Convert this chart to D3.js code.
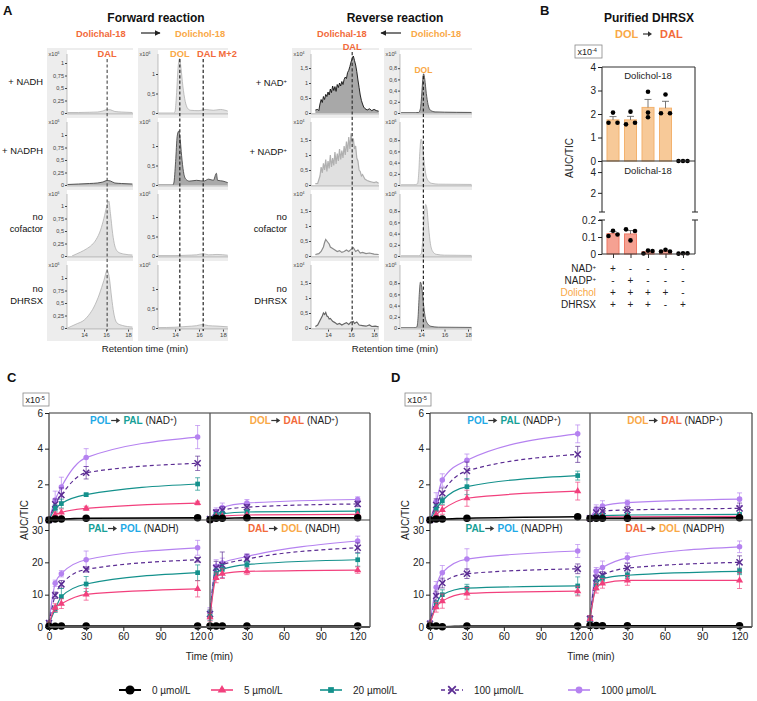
<!DOCTYPE html>
<html><head><meta charset="utf-8">
<script src="https://cdn.jsdelivr.net/npm/d3@7"></script>
<style>
body{margin:0;background:#fff}
svg{display:block}
text{font-family:"Liberation Sans",Arial,Helvetica,sans-serif}
</style>
</head><body>
<svg id="c" width="757" height="701"></svg>
<script>
// ===================== DATA =====================
// ---- Panel A chromatograms: [retention time (min), intensity] ----
const fwdDal_NADH = [[12.5,0.01],[13.5,0.01],[14.5,0.015],[15.2,0.02],[15.7,0.04],[16.1,0.07],[16.4,0.065],[16.8,0.03],[17.4,0.02],[18.4,0.01]];
const fwdDal_NADPH = [[12.5,0.01],[13.5,0.02],[14.5,0.03],[15.2,0.04],[15.7,0.06],[16.1,0.09],[16.4,0.08],[16.8,0.04],[17.4,0.03],[18.4,0.02]];
const fwdDal_noCof = [[12.9,0.0],[13.3,0.04],[13.7,0.08],[14.2,0.14],[14.7,0.22],[15.1,0.33],[15.5,0.52],[15.8,0.75],[16.05,0.98],[16.25,1.1],[16.4,0.85],[16.6,0.45],[16.8,0.2],[17.1,0.08],[17.6,0.04],[18.4,0.02]];
const fwdDal_noDHRSX = [[12.5,0.0],[12.9,0.04],[13.4,0.09],[13.9,0.14],[14.4,0.25],[14.9,0.42],[15.4,0.68],[15.8,0.95],[16.1,1.15],[16.3,1.0],[16.5,0.62],[16.7,0.3],[17.0,0.1],[17.5,0.05],[18.4,0.02]];
const fwdDol_NADH = [[12.6,0.0],[13.9,0.0],[14.0,0.04],[14.12,0.45],[14.25,1.15],[14.38,1.4],[14.5,1.15],[14.65,0.7],[14.85,0.3],[15.05,0.12],[15.3,0.07],[16.0,0.06],[16.5,0.09],[17.2,0.07],[17.8,0.09],[18.4,0.05]];
const fwdDol_NADPH = [[12.6,0.0],[13.8,0.0],[13.9,0.05],[14.05,0.6],[14.18,1.25],[14.3,1.38],[14.42,1.2],[14.55,0.75],[14.7,0.35],[14.9,0.15],[15.2,0.1],[15.8,0.12],[16.4,0.1],[16.8,0.15],[17.2,0.12],[17.45,0.3],[17.55,0.12],[18.0,0.1],[18.4,0.06]];
const fwdDol_noCof = [[12.6,0.01],[14.0,0.01],[15.0,0.02],[15.8,0.03],[16.35,0.06],[16.8,0.03],[17.5,0.04],[18.4,0.02]];
const fwdDol_noDHRSX = [[12.6,0.01],[14.0,0.02],[15.0,0.04],[15.8,0.06],[16.3,0.09],[16.8,0.06],[17.5,0.05],[18.4,0.03]];

const revDal_NAD = [[12.9,0.1],[13.1,0.12],[13.2,0.08],[13.3,0.3],[13.4,0.45],[13.5,0.35],[13.6,0.55],[13.7,0.45],[13.8,0.62],[13.9,0.55],[14.0,0.7],[14.1,0.6],[14.2,0.8],[14.3,0.68],[14.4,0.9],[14.5,0.75],[14.6,0.88],[14.7,0.72],[14.8,0.95],[14.9,0.85],[15.0,1.0],[15.1,0.9],[15.2,1.05],[15.3,0.95],[15.4,1.12],[15.5,1.2],[15.6,1.15],[15.7,1.35],[15.8,1.42],[15.9,1.55],[16.0,1.7],[16.1,1.82],[16.2,1.9],[16.3,1.75],[16.4,1.6],[16.5,1.38],[16.6,1.1],[16.7,0.85],[16.8,0.6],[16.9,0.42],[17.0,0.3],[17.1,0.2],[17.2,0.15],[17.4,0.1],[17.6,0.14],[17.8,0.08],[18.0,0.12],[18.2,0.08],[18.4,0.06]];
const revDal_NADP = [[12.9,0.05],[13.1,0.05],[13.3,0.3],[13.4,0.6],[13.5,0.4],[13.6,0.72],[13.7,0.5],[13.8,0.85],[13.9,0.45],[14.0,0.8],[14.1,0.55],[14.2,1.0],[14.3,0.6],[14.4,0.9],[14.5,0.65],[14.6,1.1],[14.7,0.7],[14.8,1.05],[14.9,0.8],[15.0,1.2],[15.1,0.85],[15.2,1.15],[15.3,0.9],[15.4,1.3],[15.5,1.0],[15.6,1.45],[15.7,1.1],[15.8,1.6],[15.9,1.2],[16.0,1.72],[16.1,1.4],[16.2,1.55],[16.3,1.2],[16.4,1.3],[16.5,0.9],[16.6,0.8],[16.7,0.5],[16.8,0.45],[16.9,0.3],[17.0,0.35],[17.2,0.2],[17.4,0.15],[17.6,0.12],[17.8,0.1],[18.0,0.08],[18.2,0.1],[18.4,0.06]];
const revDal_noCof = [[12.9,0.05],[13.2,0.08],[13.4,0.15],[13.6,0.3],[13.7,0.45],[13.8,0.55],[13.9,0.5],[14.0,0.45],[14.1,0.4],[14.2,0.3],[14.4,0.25],[14.6,0.2],[14.8,0.15],[15.0,0.18],[15.2,0.12],[15.4,0.15],[15.6,0.2],[15.8,0.15],[16.0,0.22],[16.2,0.28],[16.4,0.15],[16.6,0.2],[16.8,0.1],[17.0,0.12],[17.3,0.08],[17.6,0.1],[18.0,0.06],[18.4,0.05]];
const revDal_noDHRSX = [[12.9,0.05],[13.1,0.1],[13.3,0.25],[13.5,0.4],[13.6,0.5],[13.7,0.45],[13.8,0.52],[13.9,0.4],[14.0,0.38],[14.1,0.3],[14.2,0.32],[14.4,0.22],[14.6,0.18],[14.8,0.12],[15.0,0.15],[15.2,0.1],[15.4,0.14],[15.6,0.18],[15.8,0.12],[16.0,0.2],[16.2,0.22],[16.3,0.15],[16.5,0.2],[16.7,0.1],[17.0,0.08],[17.3,0.06],[17.6,0.1],[17.8,0.05],[18.1,0.06],[18.4,0.04]];
const revDol_NAD = [[12.3,0.005],[13.5,0.005],[13.8,0.01],[13.95,0.08],[14.05,0.3],[14.15,0.6],[14.22,0.7],[14.32,0.6],[14.45,0.35],[14.6,0.15],[14.8,0.05],[15.2,0.02],[16.0,0.015],[17.0,0.012],[18.3,0.01]];
const revDol_NADP = [[12.3,0.005],[13.4,0.005],[13.7,0.02],[13.8,0.2],[13.9,0.6],[14.0,0.82],[14.1,0.75],[14.25,0.45],[14.4,0.2],[14.6,0.08],[14.9,0.03],[15.5,0.015],[18.3,0.01]];
const revDol_noCof = [[12.3,0.005],[13.8,0.005],[14.0,0.03],[14.15,0.3],[14.3,0.8],[14.4,0.92],[14.5,0.85],[14.65,0.5],[14.8,0.22],[15.0,0.08],[15.3,0.03],[16.0,0.015],[18.3,0.01]];
const revDol_noDHRSX = [[12.3,0.005],[13.4,0.005],[13.65,0.02],[13.75,0.2],[13.85,0.6],[13.95,0.82],[14.05,0.75],[14.2,0.45],[14.35,0.2],[14.55,0.08],[14.85,0.03],[15.5,0.015],[18.3,0.01]];

const fwdRowLabels = [["+ NADH"],["+ NADPH"],["no","cofactor"],["no","DHRSX"]];
const revRowLabels = [["+ NAD","+"],["+ NADP","+"],["no","cofactor"],["no","DHRSX"]];
const rtTicks = [14,16,18];
const peakDAL = 16.1, peakDOL = 14.4, peakDALM2 = 16.35, peakDOLrev = 14.2;

// ---- Panel B ----
const bGroups = ["g1","g2","g3","g4","g5"];
const dolMean = [1.75, 1.75, 2.28, 2.25, 0];
const dolSem  = [0.14, 0.15, 0.34, 0.29, 0];
const dolPts  = [[1.63,2.06,1.63],[1.56,2.1,1.63],[1.86,2.95,2.06],[2.03,2.83,2.03],[0,0,0]];
const dalMean = [0.12, 0.118, 0.013, 0.018, 0.003];
const dalSem  = [0.012, 0.02, 0.004, 0.003, 0.001];
const dalPts  = [[0.106,0.137,0.115],[0.145,0.08,0.135],[0.003,0.02,0.018],[0.015,0.025,0.015],[0.002,0.004,0.004]];
const bTopTicks = [0,1,2,3,4];
const bMidTicks = [2,4];
const bLowTicks = [0,0.1,0.2];
const condNAD   = ["+","-","-","-","-"];
const condNADP  = ["-","+","-","-","-"];
const condDOL   = ["+","+","+","+","-"];
const condDHRSX = ["+","+","+","-","+"];

// ---- Panels C & D: time course (x10^-5 AUC/TIC), series order 0,5,20,100,1000 µmol/L ----
const times = [0, 5, 10, 30, 120];
const concLabels = ["0 µmol/L","5 µmol/L","20 µmol/L","100 µmol/L","1000 µmol/L"];
const timeTicks = [0,30,60,90,120];
const topTicks = [0,2,4,6];
const botTicks = [0,10,20,30];

const cPolPal = [[0,0.05,0.05,0.1,0.12],[0,0.3,0.42,0.65,0.95],[0,0.65,0.92,1.42,2.02],[0,0.88,1.4,2.65,3.18],[0,1.12,1.85,3.5,4.65]];
const cPolPalErr = [[0,0.02,0.02,0.03,0.03],[0,0.15,0.2,0.12,0.1],[0,0.2,0.25,0.08,0.35],[0,0.3,0.4,0.35,0.4],[0,0.5,0.55,0.5,0.65]];
const cDolDal = [[0.02,0.1,0.1,0.12,0.12],[0.05,0.2,0.22,0.28,0.32],[0.05,0.3,0.35,0.45,0.5],[0.05,0.42,0.55,0.72,0.9],[0.05,0.48,0.7,0.95,1.15]];
const cDolDalErr = [[0,0.02,0.02,0.02,0.02],[0,0.05,0.05,0.05,0.05],[0,0.1,0.1,0.1,0.1],[0,0.15,0.2,0.15,0.15],[0,0.2,0.25,0.2,0.15]];
const cPalPol = [[0.2,0.2,0.3,0.3,0.3],[1.0,6.0,7.2,10.1,11.8],[1.0,5.5,9.4,13.3,16.8],[1.2,9.8,13.2,17.8,20.8],[1.5,13.5,16.5,20.8,24.5]];
const cPalPolErr = [[0.1,0.1,0.1,0.1,0.1],[0.5,1.2,1.5,1.8,2.5],[0.5,1.0,2.5,2.3,2.4],[0.5,1.0,1.2,0.8,0.7],[0.5,1.0,1.0,2.7,2.3]];
const cDalDol = [[0.3,0.3,0.3,0.3,0.3],[3.0,15.2,16.5,17.2,17.6],[3.5,16.5,17.8,19.3,20.8],[4.0,18.3,19.2,21.0,24.5],[4.5,18.8,19.8,21.8,26.6]];
const cDalDolErr = [[0.1,0.1,0.1,0.1,0.1],[1.2,1.5,1.5,1.0,1.0],[1.5,1.5,1.5,1.0,2.0],[1.5,2.0,4.0,1.5,1.5],[1.5,2.0,1.5,0.8,1.5]];

const dPolPal = [[0,0.05,0.05,0.1,0.18],[0,0.3,0.57,1.22,1.62],[0,0.6,1.08,1.87,2.49],[0,0.84,1.5,2.75,3.68],[0,1.03,2.24,3.35,4.83]];
const dPolPalErr = [[0,0.02,0.02,0.03,0.03],[0,0.2,0.25,0.45,0.5],[0,0.25,0.2,0.45,0.25],[0,0.35,0.3,0.5,0.45],[0,0.5,0.35,0.35,0.5]];
const dDolDal = [[0.08,0.1,0.1,0.1,0.12],[0.08,0.15,0.17,0.18,0.2],[0.1,0.22,0.25,0.28,0.32],[0.1,0.42,0.5,0.56,0.65],[0.1,0.6,0.78,0.97,1.17]];
const dDolDalErr = [[0,0.02,0.02,0.02,0.02],[0,0.05,0.05,0.05,0.05],[0,0.05,0.05,0.05,0.05],[0,0.3,0.2,0.2,0.3],[0,0.25,0.3,0.15,0.35]];
const dPalPol = [[0.3,0.3,0.1,0.3,0.3],[1.0,6.1,8.0,10.4,11.1],[1.0,7.0,10.0,12.0,12.7],[1.0,9.6,13.6,16.5,18.0],[1.5,12.3,16.8,21.0,23.5]];
const dPalPolErr = [[0.1,0.1,0.1,0.1,0.1],[0.5,1.5,2.2,1.8,1.5],[0.5,1.0,1.5,1.2,2.8],[0.5,1.5,1.5,1.5,1.5],[0.5,1.8,2.2,3.2,2.0]];
const dDalDol = [[0.5,0.5,0.4,0.4,0.4],[2.5,12.0,13.5,14.4,14.4],[2.0,13.0,15.0,16.0,17.2],[2.5,15.1,16.1,18.2,20.0],[2.5,17.2,18.4,21.4,24.8]];
const dDalDolErr = [[0.1,0.1,0.1,0.1,0.1],[1,1.5,1.5,1.5,2.5],[1,1.5,1,1,1],[1,1,1,1.5,2],[1,1.2,2,1.5,1.8]];

// ===================== STYLE =====================
const FONT = '"Liberation Sans",Arial,Helvetica,sans-serif';
const cRed = "#f26a3a", cOrange = "#f9a846", cBlue = "#1ea9e6", cTeal = "#17a097";
const seriesStyle = [
  {color:"#000000", sym:d3.symbolCircle, size:44, dash:null, lw:1.6},
  {color:"#f2407d", sym:d3.symbolTriangle, size:22, dash:null, lw:1.2},
  {color:"#14918c", sym:d3.symbolSquare, size:22, dash:null, lw:1.2},
  {color:"#5b2c93", sym:d3.symbolX, size:26, dash:"4,3", lw:1.2, stroke:true},
  {color:"#b582f0", sym:d3.symbolCircle, size:24, dash:null, lw:1.2}
];
const plain = d => String(d);

const svg = d3.select("#c");

function rich(parent, x, y, parts, o={}) {
  const size = o.size || 10;
  const t = parent.append("text").attr("x", x).attr("y", y).attr("font-size", size)
    .attr("text-anchor", o.anchor || "start").attr("fill", o.fill || "#222");
  if (o.bold) t.attr("font-weight", "bold");
  if (o.rotate) t.attr("transform", `rotate(${o.rotate},${x},${y})`);
  parts.forEach(p => {
    const ts = t.append("tspan").text(p.t);
    if (p.c) ts.attr("fill", p.c);
    if (p.b) ts.attr("font-weight", "bold");
    if (p.n) ts.attr("font-weight", "normal");
    if (p.sup) ts.attr("baseline-shift", "super").attr("font-size", size * 0.62);
    if (p.size) ts.attr("font-size", p.size);
  });
  return t;
}
function txt(parent, x, y, s, o={}) { return rich(parent, x, y, [{t:s}], o); }

function styleAxis(g, size, col) {
  g.attr("font-family", FONT).attr("font-size", size);
  g.selectAll(".domain").remove();
  g.selectAll(".tick line").attr("stroke", col);
  g.selectAll(".tick text").attr("fill", col);
}

// ===================== PANEL A =====================
const rowBase = [113, 185, 256, 328];
const rowTop = [50, 118, 190, 261];

function chromCol(c, traces, styles) {
  const g = svg.append("g");
  const x = d3.scaleLinear([c.t0, c.t1], [c.ax, c.x1]);
  g.append("rect").attr("x", c.x0).attr("y", 48).attr("width", c.x1 - c.x0).attr("height", 293).attr("fill", "#ededed");
  rowBase.forEach((b, i) => {
    const top = rowTop[i];
    const y = d3.scaleLinear([0, 1], [b, b - c.ppu]);
    g.append("rect").attr("x", c.ax).attr("y", top).attr("width", c.x1 - c.ax).attr("height", b - top).attr("fill", "#fff");
    const st = styles[i];
    const cv = st.smooth ? d3.curveMonotoneX : d3.curveLinear;
    g.append("path").datum(traces[i])
      .attr("d", d3.area().x(d => x(d[0])).y0(b).y1(d => y(d[1])).curve(cv))
      .attr("fill", st.fill);
    g.append("path").datum(traces[i])
      .attr("d", d3.line().x(d => x(d[0])).y(d => y(d[1])).curve(cv))
      .attr("fill", "none").attr("stroke", st.stroke).attr("stroke-width", st.w || 0.7);
    g.append("rect").attr("x", c.ax).attr("y", b).attr("width", c.x1 - c.ax).attr("height", 1.6).attr("fill", "#c9c9c9");
    g.append("line").attr("x1", c.ax).attr("x2", c.ax).attr("y1", top + 4).attr("y2", b).attr("stroke", "#999").attr("stroke-width", 0.6);
    const ay = g.append("g").attr("transform", `translate(${c.ax},0)`)
      .call(d3.axisLeft(y).tickValues(c.ticks).tickSize(2).tickPadding(1).tickFormat(d => String(d).replace(".", ",")));
    styleAxis(ay, 5.6, "#444");
    rich(g, c.x0 + 1.5, top + 6, [{t:"x10"}, {t:c.exp, sup:true}], {size:5.6, fill:"#444"});
  });
  const axb = g.append("g").attr("transform", `translate(0,${rowBase[3] + 1.6})`)
    .call(d3.axisBottom(x).tickValues(rtTicks).tickSize(2).tickPadding(1).tickFormat(plain));
  styleAxis(axb, 6, "#444");
  return x;
}

const light = {fill:"#e2e2e2", stroke:"#a8a8a8", smooth:true};
const dark = {fill:"#a9a9a9", stroke:"#3a3a3a", smooth:true, w:0.8};

const xFL = chromCol({x0:47, ax:67, x1:133, t0:12.45, t1:18.45, ppu:50, ticks:[0,0.25,0.5,0.75,1], exp:"6"},
  [fwdDal_NADH, fwdDal_NADPH, fwdDal_noCof, fwdDal_noDHRSX],
  [light, {fill:"#b5b5b5", stroke:"#333", smooth:true, w:0.8}, light, light]);
const xFR = chromCol({x0:138, ax:158, x1:228, t0:12.58, t1:18.42, ppu:39, ticks:[0,0.5,1], exp:"6"},
  [fwdDol_NADH, fwdDol_NADPH, fwdDol_noCof, fwdDol_noDHRSX],
  [light, dark, light, light]);
const xRL = chromCol({x0:292, ax:311, x1:379, t0:12.52, t1:18.43, ppu:30, ticks:[0,0.5,1,1.5], exp:"4"},
  [revDal_NAD, revDal_NADP, revDal_noCof, revDal_noDHRSX],
  [{fill:"#a8a8a8", stroke:"#111", w:0.9}, {fill:"#e0e0e0", stroke:"#b0b0b0", w:1.2},
   {fill:"#ececec", stroke:"#8a8a8a", w:1.2}, {fill:"#e6e6e6", stroke:"#666", w:1.2}]);
const xRR = chromCol({x0:384, ax:400, x1:472, t0:12.21, t1:18.34, ppu:56, ticks:[0,0.2,0.4,0.6,0.8], exp:"6"},
  [revDol_NAD, revDol_NADP, revDol_noCof, revDol_noDHRSX],
  [dark, light, light, {fill:"#b4b4b4", stroke:"#4a4a4a", smooth:true, w:0.8}]);

function dashV(x, y1, y2, col) {
  svg.append("line").attr("x1", x).attr("x2", x).attr("y1", y1).attr("y2", y2)
    .attr("stroke", col).attr("stroke-width", 1.2).attr("stroke-dasharray", "3.2,2.2");
}
dashV(xFL(peakDAL), 59, 331, "#555");
dashV(xFR(peakDOL), 59, 331, "#222");
dashV(xFR(peakDALM2), 59, 331, "#222");
dashV(xRL(peakDAL), 52, 331, "#333");
dashV(xRR(peakDOLrev), 76, 331, "#222");

// headings A
txt(svg, 3, 15, "A", {size:13, bold:true, fill:"#111"});
txt(svg, 156, 22, "Forward reaction", {size:12, bold:true, anchor:"middle", fill:"#111"});
txt(svg, 76, 37, "Dolichal-18", {size:9.3, bold:true, fill:cRed});
txt(svg, 175, 37, "Dolichol-18", {size:9.3, bold:true, fill:cOrange});
txt(svg, 395, 22, "Reverse reaction", {size:12, bold:true, anchor:"middle", fill:"#111"});
txt(svg, 317, 37, "Dolichal-18", {size:9.3, bold:true, fill:cRed});
txt(svg, 411, 37, "Dolichol-18", {size:9.3, bold:true, fill:cOrange});
const defs = svg.append("defs");
defs.append("marker").attr("id", "ah").attr("viewBox", "0 0 10 10").attr("refX", 9).attr("refY", 5)
  .attr("markerWidth", 5).attr("markerHeight", 5).attr("orient", "auto")
  .append("path").attr("d", "M0,0L10,5L0,10z").attr("fill", "#222");
svg.append("line").attr("x1", 141).attr("x2", 160).attr("y1", 33).attr("y2", 33).attr("stroke", "#222").attr("stroke-width", 1.2).attr("marker-end", "url(#ah)");
svg.append("line").attr("x1", 401).attr("x2", 381).attr("y1", 33).attr("y2", 33).attr("stroke", "#222").attr("stroke-width", 1.2).attr("marker-end", "url(#ah)");
txt(svg, xFL(peakDAL), 57, "DAL", {size:9.3, bold:true, fill:cRed, anchor:"middle"});
txt(svg, xFR(peakDOL), 57, "DOL", {size:9.3, bold:true, fill:cOrange, anchor:"middle"});
txt(svg, 197, 57, "DAL M+2", {size:9.3, bold:true, fill:cRed});
txt(svg, xRL(peakDAL), 49.5, "DAL", {size:9.3, bold:true, fill:cRed, anchor:"middle"});
txt(svg, xRR(peakDOLrev), 73, "DOL", {size:8.5, bold:true, fill:cOrange, anchor:"middle"});

const rowLabelY = [[85],[154],[220,232],[292,304]];
fwdRowLabels.forEach((L, i) => {
  L.forEach((s, k) => txt(svg, 43, rowLabelY[i][k], s, {size:9.4, anchor:"end", fill:"#111"}));
});
revRowLabels.forEach((L, i) => {
  if (i < 2) rich(svg, 287, rowLabelY[i][0] + 1, [{t:L[0]}, {t:L[1], sup:true}], {size:9.4, anchor:"end", fill:"#111"});
  else L.forEach((s, k) => txt(svg, 287, rowLabelY[i][k], s, {size:9.4, anchor:"end", fill:"#111"}));
});
txt(svg, 145, 352, "Retention time (min)", {size:9.6, anchor:"middle", fill:"#222"});
txt(svg, 395, 352, "Retention time (min)", {size:9.6, anchor:"middle", fill:"#222"});

// small arrow glyph (path) used in headings
function arrowGlyph(parent, x, y, len) {
  parent.append("line").attr("x1", x).attr("x2", x + len - 2).attr("y1", y).attr("y2", y).attr("stroke", "#333").attr("stroke-width", 1.2);
  parent.append("path").attr("d", `M${x + len - 4},${y - 2.8}L${x + len},${y}L${x + len - 4},${y + 2.8}Z`).attr("fill", "#333");
}

// ===================== PANEL B =====================
(function(){
  const g = svg.append("g");
  const xB = d3.scalePoint(bGroups, [613, 683]);
  const yTop = d3.scaleLinear([0, 4], [161, 67]);
  const yMid = d3.scaleLinear([0.25, 4.2], [211, 170]);
  const yLow = d3.scaleLinear([0, 0.2], [254, 220]);
  const L = 602, R = 695, bw = 12;
  txt(g, 540, 15, "B", {size:13, bold:true, fill:"#111"});
  txt(g, 649, 22, "Purified DHRSX", {size:12, bold:true, anchor:"middle", fill:"#111"});
  txt(g, 615, 38, "DOL", {size:11, bold:true, fill:cOrange});
  arrowGlyph(g, 643, 34, 9);
  txt(g, 660, 38, "DAL", {size:11, bold:true, fill:cRed});
  g.append("rect").attr("x", 575).attr("y", 45).attr("width", 27).attr("height", 13).attr("fill", "#fff").attr("stroke", "#888").attr("stroke-width", 0.8);
  rich(g, 577.5, 55, [{t:"x10"}, {t:"-4", sup:true}], {size:9, fill:"#222"});
  bGroups.forEach((gr, i) => {
    const cx = xB(gr);
    if (dolMean[i] > 0) {
      g.append("rect").attr("x", cx - bw/2).attr("y", yTop(dolMean[i])).attr("width", bw).attr("height", yTop(0) - yTop(dolMean[i]))
        .attr("fill", "#f7c998").attr("stroke", "#f3b26e").attr("stroke-width", 1);
      g.append("line").attr("x1", cx).attr("x2", cx).attr("y1", yTop(dolMean[i])).attr("y2", yTop(dolMean[i] + dolSem[i])).attr("stroke", "#555").attr("stroke-width", 0.8);
      g.append("line").attr("x1", cx - 3.5).attr("x2", cx + 3.5).attr("y1", yTop(dolMean[i] + dolSem[i])).attr("y2", yTop(dolMean[i] + dolSem[i])).attr("stroke", "#555").attr("stroke-width", 0.8);
    }
    const offs = i === 2 ? [0, 0, 0] : [-4.5, 0, 4.5];
    dolPts[i].forEach((v, k) => g.append("circle").attr("cx", cx + offs[k]).attr("cy", yTop(v)).attr("r", 2.3).attr("fill", "#000"));
    g.append("rect").attr("x", cx - bw/2).attr("y", yLow(dalMean[i])).attr("width", bw).attr("height", yLow(0) - yLow(dalMean[i]))
      .attr("fill", "#f5a192").attr("stroke", "#ee7a66").attr("stroke-width", 1);
    if (dalMean[i] > 0.05) {
      g.append("line").attr("x1", cx).attr("x2", cx).attr("y1", yLow(dalMean[i])).attr("y2", yLow(dalMean[i] + dalSem[i])).attr("stroke", "#555").attr("stroke-width", 0.8);
      g.append("line").attr("x1", cx - 3.5).attr("x2", cx + 3.5).attr("y1", yLow(dalMean[i] + dalSem[i])).attr("y2", yLow(dalMean[i] + dalSem[i])).attr("stroke", "#555").attr("stroke-width", 0.8);
    }
    dalPts[i].forEach((v, k) => g.append("circle").attr("cx", cx + [-4.5, 0, 4.5][k]).attr("cy", yLow(v)).attr("r", 2.3).attr("fill", "#000"));
  });
  const fr = (x1, y1, x2, y2, w) => g.append("line").attr("x1", x1).attr("y1", y1).attr("x2", x2).attr("y2", y2).attr("stroke", "#333").attr("stroke-width", w || 1.1);
  fr(L, 67, R, 67); fr(L, 161, R, 161); fr(L, 254, R, 254);
  fr(L, 67, L, 212); fr(L, 220, L, 254); fr(R, 67, R, 212); fr(R, 220, R, 254);
  fr(L - 3, 212, L + 3, 212); fr(L - 3, 220, L + 3, 220); fr(R - 3, 212, R + 3, 212); fr(R - 3, 220, R + 3, 220);
  const a1 = g.append("g").attr("transform", `translate(${L},0)`).call(d3.axisLeft(yTop).tickValues(bTopTicks).tickSize(4).tickPadding(2).tickFormat(plain));
  const a2 = g.append("g").attr("transform", `translate(${L},0)`).call(d3.axisLeft(yMid).tickValues(bMidTicks).tickSize(4).tickPadding(2).tickFormat(plain));
  const a3 = g.append("g").attr("transform", `translate(${L},0)`).call(d3.axisLeft(yLow).tickValues(bLowTicks).tickSize(4).tickPadding(2).tickFormat(d => d === 0 ? "0" : d3.format(".1f")(d)));
  [a1, a2, a3].forEach(a => styleAxis(a, 10, "#222"));
  const ab = g.append("g").attr("transform", `translate(0,254)`).call(d3.axisBottom(xB).tickSize(4).tickFormat(""));
  styleAxis(ab, 10, "#333");
  txt(g, 648, 79, "Dolichol-18", {size:9.5, anchor:"middle", fill:"#222"});
  txt(g, 648, 174, "Dolichal-18", {size:9.5, anchor:"middle", fill:"#222"});
  txt(g, 573, 158, "AUC/TIC", {size:10, anchor:"middle", fill:"#222", rotate:-90});
  const rowsY = [272, 284, 296, 308];
  rich(g, 596, rowsY[0], [{t:"NAD"}, {t:"+", sup:true}], {size:10, anchor:"end", fill:"#222"});
  rich(g, 596, rowsY[1], [{t:"NADP"}, {t:"+", sup:true}], {size:10, anchor:"end", fill:"#222"});
  txt(g, 596, rowsY[2], "Dolichol", {size:10, anchor:"end", fill:cOrange});
  txt(g, 596, rowsY[3], "DHRSX", {size:10, anchor:"end", fill:"#222"});
  [condNAD, condNADP, condDOL, condDHRSX].forEach((arr, r) => arr.forEach((s, i) =>
    txt(g, xB(bGroups[i]), rowsY[r], s, {size:10, anchor:"middle", fill:"#222"})));
})();

// ===================== PANELS C & D =====================
function kinPanel(P) {
  const g = svg.append("g");
  const xL = d3.scaleLinear([0, 130], [P.x0, P.xm]);
  const xR = d3.scaleLinear([0, 130], [P.xm, P.x1]);
  const yT = d3.scaleLinear([0, 6], [520, 413]);
  const yB = d3.scaleLinear([0, 30], [627, 530]);
  txt(g, P.lx, 382, P.letter, {size:13, bold:true, fill:"#111"});
  g.append("rect").attr("x", P.bx).attr("y", 393).attr("width", 26).attr("height", 13).attr("fill", "#fff").attr("stroke", "#888").attr("stroke-width", 0.8);
  rich(g, P.bx + 2.5, 403, [{t:"x10"}, {t:"-5", sup:true}], {size:9, fill:"#222"});

  function sub(x, y, vals, errs) {
    for (let s = vals.length - 1; s >= 0; s--) {
      const st = seriesStyle[s];
      const pts = times.map((t, k) => ({t, v: vals[s][k], e: errs[s][k]}));
      g.append("path").datum(pts)
        .attr("d", d3.line().x(d => x(d.t)).y(d => y(d.v)).curve(d3.curveMonotoneX))
        .attr("fill", "none").attr("stroke", st.color).attr("stroke-width", st.lw)
        .attr("stroke-dasharray", st.dash);
      pts.forEach(d => {
        if (d.e > 0.05) {
          g.append("line").attr("x1", x(d.t)).attr("x2", x(d.t)).attr("y1", y(d.v - d.e)).attr("y2", y(d.v + d.e)).attr("stroke", st.color).attr("stroke-width", 0.8).attr("opacity", 0.85);
          [d.v - d.e, d.v + d.e].forEach(v => g.append("line").attr("x1", x(d.t) - 2.5).attr("x2", x(d.t) + 2.5).attr("y1", y(v)).attr("y2", y(v)).attr("stroke", st.color).attr("stroke-width", 0.8).attr("opacity", 0.85));
        }
      });
      pts.forEach(d => {
        const p = g.append("path").attr("d", d3.symbol(st.sym, st.size)()).attr("transform", `translate(${x(d.t)},${y(d.v)})`);
        if (st.stroke) p.attr("fill", "none").attr("stroke", st.color).attr("stroke-width", 1.5);
        else p.attr("fill", st.color);
      });
    }
  }
  sub(xL, yT, P.tl, P.tlE);
  sub(xR, yT, P.tr, P.trE);
  sub(xL, yB, P.bl, P.blE);
  sub(xR, yB, P.br, P.brE);

  const fr = (x1, y1, x2, y2, w, c) => g.append("line").attr("x1", x1).attr("y1", y1).attr("x2", x2).attr("y2", y2).attr("stroke", c || "#333").attr("stroke-width", w || 1.1);
  fr(P.x0, 413, P.x1, 413); fr(P.x1, 413, P.x1, 627); fr(P.xm, 413, P.xm, 627, 1.3, "#555");
  fr(P.x0, 520, P.x1, 520, 1.2, "#444"); fr(P.x0, 413, P.x0, 627, 1.3, "#444"); fr(P.x0, 627, P.x1, 627, 1.8, "#555");
  const at = g.append("g").attr("transform", `translate(${P.x0},0)`).call(d3.axisLeft(yT).tickValues(topTicks).tickSize(4).tickPadding(2).tickFormat(plain));
  const ab = g.append("g").attr("transform", `translate(${P.x0},0)`).call(d3.axisLeft(yB).tickValues(botTicks).tickSize(4).tickPadding(2).tickFormat(plain));
  const xl = g.append("g").attr("transform", `translate(0,627)`).call(d3.axisBottom(xL).tickValues(timeTicks).tickSize(4).tickPadding(2).tickFormat(plain));
  const xr = g.append("g").attr("transform", `translate(0,627)`).call(d3.axisBottom(xR).tickValues(timeTicks).tickSize(4).tickPadding(2).tickFormat(plain));
  [at, ab, xl, xr].forEach(a => styleAxis(a, 10, "#222"));
  txt(g, (P.x0 + P.x1) / 2, 660, "Time (min)", {size:10, anchor:"middle", fill:"#222"});
  txt(g, P.ay, 520, "AUC/TIC", {size:10, anchor:"middle", fill:"#222", rotate:-90});

  const cL = (P.x0 + P.xm) / 2 + 4, cR = (P.xm + P.x1) / 2 + 4;
  // titles: "A→ B (cofactor)" with a drawn arrow; gap kept with spaces
  function title(cx, y, a, ca, b, cb, cof, sup) {
    const parts = [{t:a, c:ca, b:true}, {t:"\u2003 "}, {t:b, c:cb, b:true}, {t:" (" + cof}];
    if (sup) parts.push({t:"+", sup:true});
    parts.push({t:")"});
    const t = rich(g, cx, y, parts, {size:10, anchor:"middle", fill:"#222"});
    const bb = t.node().getBBox();
    const first = t.select("tspan").node().getComputedTextLength();
    arrowGlyph(g, bb.x + first + 0.5, y - 3.5, 9);
  }
  title(cL, 424, "POL", cBlue, "PAL", cTeal, P.ox, true);
  title(cR, 424, "DOL", cOrange, "DAL", cRed, P.ox, true);
  title(cL, 532, "PAL", cTeal, "POL", cBlue, P.red, false);
  title(cR, 532, "DAL", cRed, "DOL", cOrange, P.red, false);
}

kinPanel({letter:"C", lx:7, bx:23, ay:28, x0:49, xm:210, x1:370, ox:"NAD", red:"NADH",
  tl:cPolPal, tlE:cPolPalErr, tr:cDolDal, trE:cDolDalErr, bl:cPalPol, blE:cPalPolErr, br:cDalDol, brE:cDalDolErr});
kinPanel({letter:"D", lx:391, bx:405, ay:409, x0:430, xm:590, x1:752, ox:"NADP", red:"NADPH",
  tl:dPolPal, tlE:dPolPalErr, tr:dDolDal, trE:dDolDalErr, bl:dPalPol, blE:dPalPolErr, br:dDalDol, brE:dDalDolErr});

// ===================== LEGEND =====================
(function(){
  const g = svg.append("g");
  const mx = [130, 222, 331, 452, 579];
  concLabels.forEach((lab, i) => {
    const st = seriesStyle[i];
    g.append("line").attr("x1", mx[i] - 11).attr("x2", mx[i] + 11).attr("y1", 690).attr("y2", 690)
      .attr("stroke", st.color).attr("stroke-width", st.lw + 0.4).attr("stroke-dasharray", st.dash);
    const p = g.append("path").attr("d", d3.symbol(st.sym, st.size * 1.5)()).attr("transform", `translate(${mx[i]},690)`);
    if (st.stroke) p.attr("fill", "none").attr("stroke", st.color).attr("stroke-width", 1.8);
    else p.attr("fill", st.color);
    txt(g, mx[i] + 22, 693.5, lab, {size:10, fill:"#222"});
  });
})();
</script>
</body></html>
